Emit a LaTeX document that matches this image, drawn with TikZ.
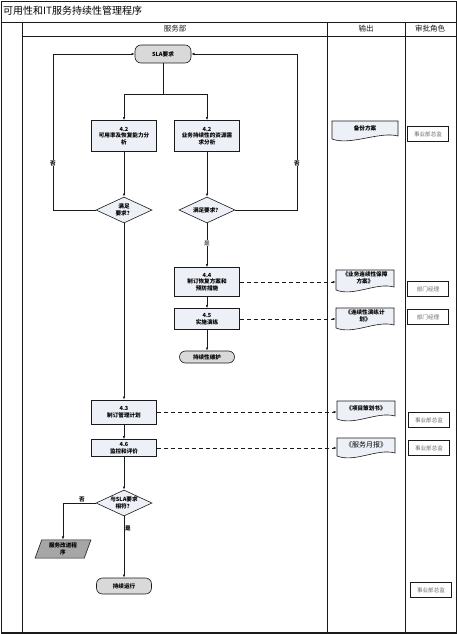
\documentclass[tikz,border=0pt]{standalone}
\usepackage{fontspec}
\setmainfont{Noto Sans CJK SC}
\usepackage{tikz}
\usetikzlibrary{arrows.meta,positioning,calc,shapes.geometric}
\definecolor{ink}{HTML}{1A1A1A}
\definecolor{muted}{HTML}{6B6B6B}
\definecolor{procfill}{HTML}{EDF0F7}
\definecolor{termfill}{HTML}{D9D9D9}
\definecolor{darkfill}{HTML}{A6A6A6}
\newcommand{\smallcjk}{\fontsize{5.6}{6.6}\selectfont}
\newcommand{\docshape}[3]{%
  \filldraw[docline] ($(#1)+(-#2,-#3)$) -- ($(#1)+(#2,-#3)$) -- ($(#1)+(#2,#3-3)$)
    .. controls +(-18,-5) and +(18,7) .. ($(#1)+(-#2,#3)$) -- cycle;}
\tikzset{
  >={Latex[length=3.2pt,width=2.6pt]},
  frame/.style={draw=ink,line width=.8pt},
  flow/.style={->,draw=ink,line width=.7pt},
  dataflow/.style={->,draw=ink,line width=.8pt,dash pattern=on 4pt off 3pt},
  procbox/.style={draw=ink,fill=procfill,line width=.6pt,minimum width=65,align=center,
    font=\smallcjk\bfseries,inner sep=1pt},
  terminal/.style={draw=ink,fill=termfill,line width=.6pt,rounded corners=6pt,align=center,
    font=\smallcjk\bfseries,inner sep=1pt},
  decision/.style={diamond,aspect=2.1,draw=ink,fill=procfill,line width=.6pt,inner sep=0pt,
    minimum width=56,minimum height=26,align=center,font=\smallcjk\bfseries},
  improvebox/.style={trapezium,trapezium left angle=70,trapezium right angle=110,draw=ink,
    fill=darkfill,line width=.6pt,minimum width=56,minimum height=16,inner sep=0pt,
    align=center,font=\smallcjk\bfseries},
  docline/.style={draw=ink,fill=procfill,line width=.6pt},
  doctext/.style={minimum width=58,minimum height=16,inner sep=0pt,align=center,font=\smallcjk\bfseries},
  role/.style={draw=ink,line width=.6pt,fill=white,minimum width=41,minimum height=15,inner sep=0pt,
    text=muted,font=\smallcjk},
  lbl/.style={fill=white,inner sep=.6pt,font=\smallcjk\bfseries},
  headtext/.style={font=\fontsize{7.5}{8}\selectfont,text=ink},
}
\begin{document}
\begin{tikzpicture}[x=1pt,y=-1pt]
  \useasboundingbox (0,0) rectangle (457,634);
  \draw[frame] (1,1) rectangle (456,633);
  \draw[frame] (1,22) -- (456,22);
  \draw[frame] (22,22) -- (22,633);
  \draw[frame] (22,36) -- (456,36);
  \draw[frame] (327,22) -- (327,633);
  \draw[frame] (405,22) -- (405,633);
  \draw[ink,line width=1.6pt] (1,633) -- (456,633);

  \node[anchor=west,font=\fontsize{10}{11}\selectfont,inner sep=0pt] (title) at (3,11) {可用性和IT服务持续性管理程序};
  \node[headtext] (hsvc) at (175,29) {服务部};
  \node[headtext] (hout) at (366,29) {输出};
  \node[headtext] (hrole) at (430,29) {审批角色};

  \node[terminal,minimum width=56,minimum height=18] (sla) at (163,54) {SLA要求};
  \node[procbox,minimum height=31] (avail) at (124,136) {4.2\\可用率及恢复能力分\\析};
  \node[procbox,minimum height=31] (resource) at (207,136) {4.2\\业务持续性的资源需\\求分析};
  \node[decision] (chkL) at (124,210) {满足\\要求？};
  \node[decision] (chkR) at (207,210) {满足要求？};
  \node[procbox,minimum height=29] (plan) at (207,282) {4.4\\制订恢复方案和\\预防措施};
  \node[procbox,minimum height=21] (drill) at (207,319) {4.5\\实施演练};
  \node[terminal,minimum width=55,minimum height=12] (maint) at (207,357) {持续性维护};
  \node[procbox,minimum height=24] (mgmt) at (124,412) {4.3\\制订管理计划};
  \node[procbox,minimum height=17] (monitor) at (124,448) {4.6\\监控和评价};
  \node[decision] (slachk) at (124,503) {与SLA要求\\相符？};
  \node[improvebox] (improve) at (63,549) {服务改进程\\序};
  \node[terminal,minimum width=55,minimum height=16] (run) at (124,586) {持续运行};

  \docshape{365,130}{33}{9}
  \node[doctext,minimum width=66] (backup) at (365,128) {备份方案};
  \docshape{365,280}{29}{10}
  \node[doctext] (docplan) at (365,278) {《业务连续性保障\\方案》};
  \docshape{365,318}{29}{10}
  \node[doctext] (docdrill) at (365,316) {《连续性演练计\\划》};
  \docshape{366,410}{29}{9}
  \node[doctext] (docmgmt) at (366,408) {《项目策划书》};
  \docshape{366,447}{29}{9}
  \node[doctext,font=\fontsize{7}{8}\selectfont] (docreport) at (366,445) {《服务月报》};

  \node[role] (rbackup) at (428,134) {事业部总监};
  \node[role] (rplan) at (428,289) {部门经理};
  \node[role] (rdrill) at (428,317) {部门经理};
  \node[role] (rmgmt) at (429,420) {事业部总监};
  \node[role] (rmon) at (429,448) {事业部总监};
  \node[role] (rrun) at (431,590) {事业部总监};

  \coordinate (split) at (163,94);
  \coordinate (loopL) at (53,54);
  \coordinate (loopR) at (297,54);
  \draw[flow,-] (sla) -- (split);
  \draw[flow] (split) -| (avail);
  \draw[flow] (split) -| (resource);
  \draw[flow] (avail) -- (chkL);
  \draw[flow] (resource) -- (chkR);
  \draw[flow] (chkL.west) -| (loopL) -- (sla.west);
  \draw[flow] (chkR.east) -| (loopR) -- (sla.east);
  \draw[flow] (chkR) -- (plan);
  \draw[flow] (plan) -- (drill);
  \draw[flow] (drill) -- (maint);
  \draw[flow] (chkL) -- (mgmt);
  \draw[flow] (mgmt) -- (monitor);
  \draw[flow] (monitor) -- (slachk);
  \draw[flow] (slachk.west) -| (improve);
  \draw[flow] (slachk) -- (run);

  \draw[dataflow] (plan.east) -- (plan.east -| docplan.west);
  \draw[dataflow] (drill.east) -- (drill.east -| docdrill.west);
  \draw[dataflow] (mgmt.east) -- (mgmt.east -| docmgmt.west);
  \draw[dataflow] (monitor.east) -- (monitor.east -| docreport.west);

  \node[lbl] (noL) at (53,163) {否};
  \node[lbl] (noR) at (297,163) {否};
  \node[lbl,text=muted] (yesR) at (207,243) {是};
  \node[lbl] (noS) at (82,499) {否};
  \node[lbl] (yesS) at (128,528) {是};
\end{tikzpicture}
\end{document}
